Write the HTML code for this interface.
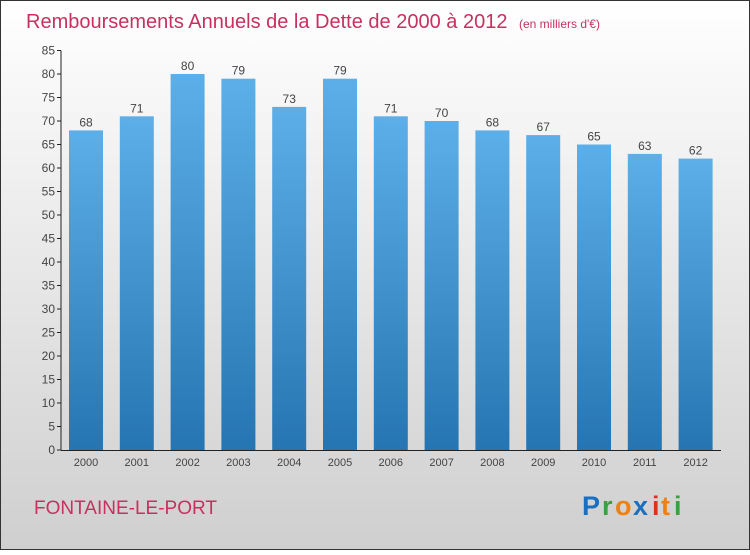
<!DOCTYPE html>
<html><head><meta charset="utf-8"><style>
body{margin:0;width:750px;height:550px;overflow:hidden;font-family:"Liberation Sans",sans-serif}
</style></head><body>
<svg width="750" height="550" xmlns="http://www.w3.org/2000/svg">
<defs>
<linearGradient id="bg" x1="0" y1="0" x2="0" y2="1"><stop offset="0" stop-color="#ffffff"/><stop offset="1" stop-color="#cfcfcf"/></linearGradient>
<linearGradient id="bar" x1="0" y1="0" x2="0" y2="1"><stop offset="0" stop-color="#5cafe8"/><stop offset="1" stop-color="#2675b2"/></linearGradient>
</defs>
<rect x="0.5" y="0.5" width="749" height="549" fill="url(#bg)" stroke="#333"/>
<text x="26" y="28" font-size="20" fill="#c8305f">Remboursements Annuels de la Dette de 2000 à 2012 <tspan font-size="12" dx="6">(en milliers d'€)</tspan></text>
<g id="yaxis"></g><g id="bars"></g><g id="xaxis"></g>
<text x="34" y="514" font-size="19" fill="#c8305f">FONTAINE-LE-PORT</text>
<g font-size="27" font-weight="bold">
<text x="582" y="515" fill="#1a6fc0">P</text><text x="602" y="515" fill="#3aa040">r</text><text x="615" y="515" fill="#f08010">o</text><text x="633" y="515" fill="#1a6fc0">x</text><text x="652" y="515" fill="#e03020">i</text><text x="661" y="515" fill="#f08010">t</text><text x="674" y="515" fill="#3aa040">i</text>
</g>
</svg>
<script>
const categories=["2000","2001","2002","2003","2004","2005","2006","2007","2008","2009","2010","2011","2012"];
const values=[68,71,80,79,73,79,71,70,68,67,65,63,62];
const yTicks=[0,5,10,15,20,25,30,35,40,45,50,55,60,65,70,75,80,85];
const NS="http://www.w3.org/2000/svg";
const y=v=>450-v*4.7;
const xc=i=>86+i*50.8;
function mk(tag,attrs,parent,txt){const e=document.createElementNS(NS,tag);for(const k in attrs)e.setAttribute(k,attrs[k]);if(txt!==undefined)e.textContent=txt;parent.appendChild(e);return e;}
const ya=document.getElementById('yaxis'),ba=document.getElementById('bars'),xa=document.getElementById('xaxis');
const yl=mk('line',{x1:61,y1:y(85),x2:61,y2:450,stroke:'#222'},ya);


yTicks.forEach(t=>{
 const tk=mk('line',{x1:57,y1:y(t),x2:61,y2:y(t),stroke:'#222'},ya);
 
 
 const lb=mk('text',{x:55,y:y(t)+4,'text-anchor':'end','font-size':12,fill:'#444'},ya,String(t));
 
 
});
values.forEach((v,i)=>{
 const r=mk('rect',{x:xc(i)-17,y:y(v),width:34,height:450-y(v),fill:'url(#bar)'},ba);
 
 
 const t=mk('text',{x:xc(i),y:y(v)-4,'text-anchor':'middle','font-size':12,fill:'#444'},ba,String(v));
 
 
 const c=mk('text',{x:xc(i),y:466,'text-anchor':'middle','font-size':11,fill:'#444'},xa,categories[i]);
 
 
});
const xl=mk('line',{x1:61,y1:450.5,x2:721,y2:450.5,stroke:'#222'},xa);


</script>
</body></html>
